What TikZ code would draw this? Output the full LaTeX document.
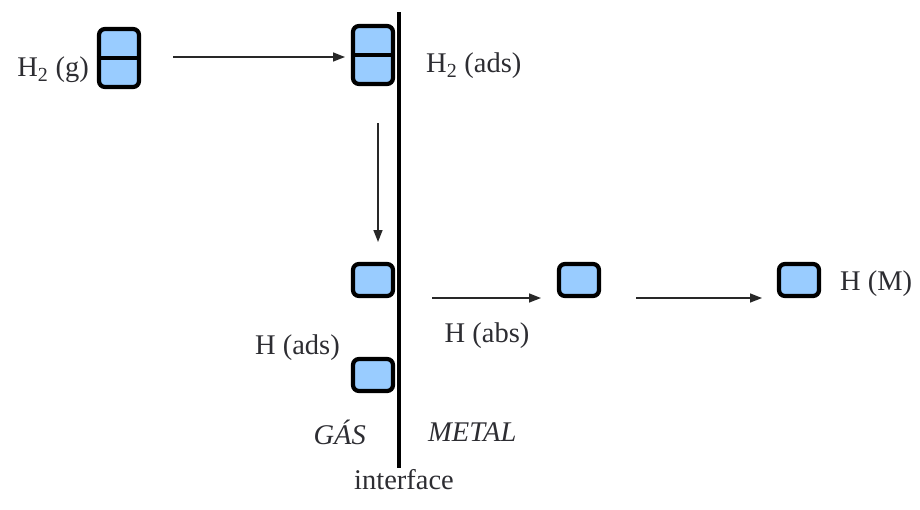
\documentclass[tikz,border=0pt]{standalone}
\usepackage{fontspec}
\setmainfont{Liberation Serif}
\usetikzlibrary{arrows.meta}
\definecolor{cellblue}{RGB}{153,204,255}
\definecolor{arrowgray}{RGB}{40,40,40}
\definecolor{inkgray}{RGB}{45,45,50}
\begin{document}
\begin{tikzpicture}[x=1pt,y=-1pt,
  cell/.style={draw=black,fill=cellblue,line width=4.2pt,rounded corners=6pt,
    inner sep=0pt,minimum width=40pt,minimum height=32pt},
  dcell/.style={cell,minimum height=58pt},
  flow/.style={draw=arrowgray,line width=1.5pt,-{Triangle[length=12pt,width=9pt]}},
  lbl/.style={font=\fontsize{28.5}{34}\selectfont,text=inkgray,inner sep=0pt}]
\useasboundingbox (0,0) rectangle (920,509);

% gas-metal interface
\coordinate (itop) at (399,12);
\coordinate (ibot) at (399,468);

% molecule cells
\node[dcell] (g2) at (119,58) {};
\draw[line width=3.5pt] (g2.west) -- (g2.east);
\node[dcell] (a2) at (373,55) {};
\draw[line width=3.5pt] (a2.west) -- (a2.east);
\node[cell] (ha1) at (373,280) {};
\node[cell] (ha2) at (373,375) {};
\node[cell] (hb) at (579,280) {};
\node[cell] (hm) at (799,280) {};

\draw[line width=4pt] (itop) -- (ibot);

% labels
\node[lbl,anchor=east] (lg2) at (89,70) {H\textsubscript{2} (g)};
\node[lbl,anchor=west] (la2) at (426,66) {H\textsubscript{2} (ads)};
\node[lbl,anchor=east] (lha) at (340,348) {H (ads)};
\node[lbl] (lhb) at (487,336) {H (abs)};
\node[lbl,anchor=west] (lhm) at (840,284) {H (M)};
\node[lbl,font=\fontsize{28.5}{34}\selectfont\itshape,anchor=east] (lgas) at (366,432) {GÁS};
\node[lbl,font=\fontsize{28.5}{34}\selectfont\itshape,anchor=west] (lmet) at (428,432) {METAL};
\node[lbl] (lint) at (404,480) {interface};

% reaction steps
\coordinate (s1) at (173,57);
\coordinate (e1) at (345,57);
\draw[flow] (s1) -- (e1);
\coordinate (s2) at (378,123);
\coordinate (e2) at (378,242);
\draw[flow] (s2) -- (e2);
\coordinate (s3) at (432,298);
\coordinate (e3) at (541,298);
\draw[flow] (s3) -- (e3);
\coordinate (s4) at (636,298);
\coordinate (e4) at (762,298);
\draw[flow] (s4) -- (e4);
\end{tikzpicture}
\end{document}
